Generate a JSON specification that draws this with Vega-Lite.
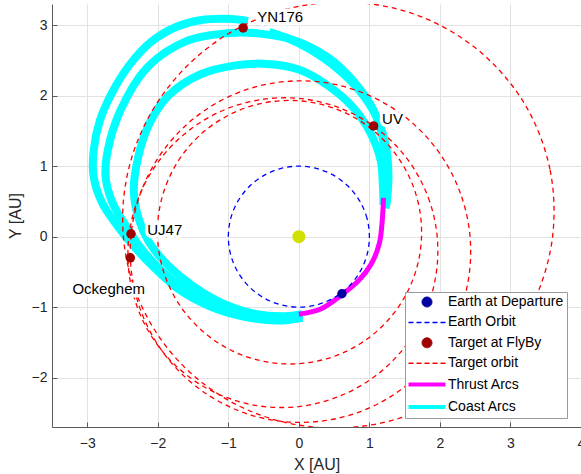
{
  "$schema": "https://vega.github.io/schema/vega-lite/v6.json",
  "width": 529,
  "height": 423,
  "autosize": {"type": "none"},
  "padding": {"left": 52, "top": 4, "right": 0, "bottom": 47},
  "background": "white",
  "config": {
    "view": {"stroke": null},
    "font": "Liberation Sans",
    "axis": {
      "grid": true,
      "gridColor": "#e2e2e2",
      "gridWidth": 1,
      "domainColor": "#5a5a5a",
      "tickColor": "#5a5a5a",
      "tickSize": -5,
      "labelFontSize": 14,
      "labelColor": "#262626",
      "labelFlush": false,
      "labelOverlap": false,
      "labelBound": false,
      "titleFontSize": 16,
      "titleFontWeight": "normal",
      "titleColor": "#262626"
    }
  },
  "datasets": {
    "earth": [
      {"o": 0, "x": 1, "y": 0}, {"o": 1, "x": 0.966, "y": 0.259}, {"o": 2, "x": 0.866, "y": 0.5}, {"o": 3, "x": 0.707, "y": 0.707},
      {"o": 4, "x": 0.5, "y": 0.866}, {"o": 5, "x": 0.259, "y": 0.966}, {"o": 6, "x": 0, "y": 1}, {"o": 7, "x": -0.259, "y": 0.966},
      {"o": 8, "x": -0.5, "y": 0.866}, {"o": 9, "x": -0.707, "y": 0.707}, {"o": 10, "x": -0.866, "y": 0.5}, {"o": 11, "x": -0.966, "y": 0.259},
      {"o": 12, "x": -1, "y": 0}, {"o": 13, "x": -0.966, "y": -0.259}, {"o": 14, "x": -0.866, "y": -0.5}, {"o": 15, "x": -0.707, "y": -0.707},
      {"o": 16, "x": -0.5, "y": -0.866}, {"o": 17, "x": -0.259, "y": -0.966}, {"o": 18, "x": 0, "y": -1}, {"o": 19, "x": 0.259, "y": -0.966},
      {"o": 20, "x": 0.5, "y": -0.866}, {"o": 21, "x": 0.707, "y": -0.707}, {"o": 22, "x": 0.866, "y": -0.5}, {"o": 23, "x": 0.966, "y": -0.259}
    ],
    "orbits": [
      {"id": "YN176", "o": 0, "x": 3.597, "y": 0}, {"id": "YN176", "o": 1, "x": 3.56, "y": 0.954}, {"id": "YN176", "o": 2, "x": 3.216, "y": 1.857},
      {"id": "YN176", "o": 3, "x": 2.598, "y": 2.598}, {"id": "YN176", "o": 4, "x": 1.788, "y": 3.098}, {"id": "YN176", "o": 5, "x": 0.889, "y": 3.317},
      {"id": "YN176", "o": 6, "x": 0, "y": 3.268}, {"id": "YN176", "o": 7, "x": -0.801, "y": 2.989}, {"id": "YN176", "o": 8, "x": -1.464, "y": 2.535},
      {"id": "YN176", "o": 9, "x": -1.965, "y": 1.965}, {"id": "YN176", "o": 10, "x": -2.299, "y": 1.327}, {"id": "YN176", "o": 11, "x": -2.47, "y": 0.662},
      {"id": "YN176", "o": 12, "x": -2.488, "y": 0}, {"id": "YN176", "o": 13, "x": -2.363, "y": -0.633}, {"id": "YN176", "o": 14, "x": -2.109, "y": -1.217},
      {"id": "YN176", "o": 15, "x": -1.734, "y": -1.734}, {"id": "YN176", "o": 16, "x": -1.249, "y": -2.163}, {"id": "YN176", "o": 17, "x": -0.666, "y": -2.484},
      {"id": "YN176", "o": 18, "x": 0, "y": -2.674}, {"id": "YN176", "o": 19, "x": 0.725, "y": -2.707}, {"id": "YN176", "o": 20, "x": 1.478, "y": -2.559},
      {"id": "YN176", "o": 21, "x": 2.208, "y": -2.208}, {"id": "YN176", "o": 22, "x": 2.855, "y": -1.649}, {"id": "YN176", "o": 23, "x": 3.343, "y": -0.896},

      {"id": "UJ47", "o": 0, "x": 2.427, "y": 0}, {"id": "UJ47", "o": 1, "x": 2.291, "y": 0.614}, {"id": "UJ47", "o": 2, "x": 2.01, "y": 1.161},
      {"id": "UJ47", "o": 3, "x": 1.611, "y": 1.611}, {"id": "UJ47", "o": 4, "x": 1.122, "y": 1.943}, {"id": "UJ47", "o": 5, "x": 0.575, "y": 2.145},
      {"id": "UJ47", "o": 6, "x": 0, "y": 2.21}, {"id": "UJ47", "o": 7, "x": -0.572, "y": 2.136}, {"id": "UJ47", "o": 8, "x": -1.112, "y": 1.926},
      {"id": "UJ47", "o": 9, "x": -1.59, "y": 1.59}, {"id": "UJ47", "o": 10, "x": -1.979, "y": 1.142}, {"id": "UJ47", "o": 11, "x": -2.25, "y": 0.603},
      {"id": "UJ47", "o": 12, "x": -2.381, "y": 0}, {"id": "UJ47", "o": 13, "x": -2.354, "y": -0.631}, {"id": "UJ47", "o": 14, "x": -2.159, "y": -1.246},
      {"id": "UJ47", "o": 15, "x": -1.8, "y": -1.8}, {"id": "UJ47", "o": 16, "x": -1.294, "y": -2.241}, {"id": "UJ47", "o": 17, "x": -0.678, "y": -2.531},
      {"id": "UJ47", "o": 18, "x": 0, "y": -2.635}, {"id": "UJ47", "o": 19, "x": 0.682, "y": -2.544}, {"id": "UJ47", "o": 20, "x": 1.308, "y": -2.265},
      {"id": "UJ47", "o": 21, "x": 1.825, "y": -1.825}, {"id": "UJ47", "o": 22, "x": 2.196, "y": -1.268}, {"id": "UJ47", "o": 23, "x": 2.398, "y": -0.643},

      {"id": "Ock", "o": 0, "x": 1.961, "y": 0}, {"id": "Ock", "o": 1, "x": 1.855, "y": 0.497}, {"id": "Ock", "o": 2, "x": 1.642, "y": 0.948},
      {"id": "Ock", "o": 3, "x": 1.335, "y": 1.335}, {"id": "Ock", "o": 4, "x": 0.948, "y": 1.642}, {"id": "Ock", "o": 5, "x": 0.497, "y": 1.855},
      {"id": "Ock", "o": 6, "x": 0, "y": 1.961}, {"id": "Ock", "o": 7, "x": -0.522, "y": 1.947}, {"id": "Ock", "o": 8, "x": -1.042, "y": 1.805},
      {"id": "Ock", "o": 9, "x": -1.529, "y": 1.529}, {"id": "Ock", "o": 10, "x": -1.946, "y": 1.124}, {"id": "Ock", "o": 11, "x": -2.252, "y": 0.603},
      {"id": "Ock", "o": 12, "x": -2.41, "y": 0}, {"id": "Ock", "o": 13, "x": -2.389, "y": -0.64}, {"id": "Ock", "o": 14, "x": -2.178, "y": -1.258},
      {"id": "Ock", "o": 15, "x": -1.789, "y": -1.789}, {"id": "Ock", "o": 16, "x": -1.258, "y": -2.178}, {"id": "Ock", "o": 17, "x": -0.64, "y": -2.389},
      {"id": "Ock", "o": 18, "x": 0, "y": -2.41}, {"id": "Ock", "o": 19, "x": 0.603, "y": -2.252}, {"id": "Ock", "o": 20, "x": 1.124, "y": -1.946},
      {"id": "Ock", "o": 21, "x": 1.529, "y": -1.529}, {"id": "Ock", "o": 22, "x": 1.805, "y": -1.042}, {"id": "Ock", "o": 23, "x": 1.947, "y": -0.522},

      {"id": "UV", "o": 0, "x": 1.739, "y": 0}, {"id": "UV", "o": 1, "x": 1.698, "y": 0.455}, {"id": "UV", "o": 2, "x": 1.544, "y": 0.891},
      {"id": "UV", "o": 3, "x": 1.283, "y": 1.283}, {"id": "UV", "o": 4, "x": 0.925, "y": 1.603}, {"id": "UV", "o": 5, "x": 0.489, "y": 1.825},
      {"id": "UV", "o": 6, "x": 0, "y": 1.927}, {"id": "UV", "o": 7, "x": -0.508, "y": 1.895}, {"id": "UV", "o": 8, "x": -0.995, "y": 1.724},
      {"id": "UV", "o": 9, "x": -1.422, "y": 1.422}, {"id": "UV", "o": 10, "x": -1.749, "y": 1.01}, {"id": "UV", "o": 11, "x": -1.949, "y": 0.522},
      {"id": "UV", "o": 12, "x": -2.004, "y": 0}, {"id": "UV", "o": 13, "x": -1.913, "y": -0.512}, {"id": "UV", "o": 14, "x": -1.688, "y": -0.975},
      {"id": "UV", "o": 15, "x": -1.352, "y": -1.352}, {"id": "UV", "o": 16, "x": -0.937, "y": -1.623}, {"id": "UV", "o": 17, "x": -0.475, "y": -1.774},
      {"id": "UV", "o": 18, "x": 0, "y": -1.802}, {"id": "UV", "o": 19, "x": 0.459, "y": -1.712}, {"id": "UV", "o": 20, "x": 0.875, "y": -1.515},
      {"id": "UV", "o": 21, "x": 1.226, "y": -1.226}, {"id": "UV", "o": 22, "x": 1.496, "y": -0.864}, {"id": "UV", "o": 23, "x": 1.67, "y": -0.448}
    ],
    "coast": [
      {"id": "I", "o": 0, "x": 1.2, "y": 0.45}, {"id": "I", "o": 1, "x": 1.19, "y": 0.75}, {"id": "I", "o": 2, "x": 1.16, "y": 1.08},
      {"id": "I", "o": 3, "x": 1.02, "y": 1.46}, {"id": "I", "o": 4, "x": 0.78, "y": 1.82}, {"id": "I", "o": 5, "x": 0.4, "y": 2.15},
      {"id": "I", "o": 6, "x": 0.0, "y": 2.37}, {"id": "I", "o": 7, "x": -0.45, "y": 2.45}, {"id": "I", "o": 8, "x": -0.9, "y": 2.43},
      {"id": "I", "o": 9, "x": -1.4, "y": 2.3}, {"id": "I", "o": 10, "x": -1.85, "y": 2.0}, {"id": "I", "o": 11, "x": -2.12, "y": 1.6},
      {"id": "I", "o": 12, "x": -2.28, "y": 1.12}, {"id": "I", "o": 13, "x": -2.34, "y": 0.65}, {"id": "I", "o": 14, "x": -2.27, "y": 0.25},
      {"id": "I", "o": 15, "x": -2.13, "y": -0.07}, {"id": "I", "o": 16, "x": -1.93, "y": -0.33}, {"id": "I", "o": 17, "x": -1.66, "y": -0.58},
      {"id": "I", "o": 18, "x": -1.35, "y": -0.8}, {"id": "I", "o": 19, "x": -1.0, "y": -0.98}, {"id": "I", "o": 20, "x": -0.6, "y": -1.1},
      {"id": "I", "o": 21, "x": -0.2, "y": -1.13}, {"id": "I", "o": 22, "x": 0.05, "y": -1.1},

      {"id": "M", "o": 0, "x": 1.23, "y": 0.4}, {"id": "M", "o": 1, "x": 1.26, "y": 0.8}, {"id": "M", "o": 2, "x": 1.21, "y": 1.3},
      {"id": "M", "o": 3, "x": 1.06, "y": 1.79}, {"id": "M", "o": 4, "x": 0.77, "y": 2.21}, {"id": "M", "o": 5, "x": 0.4, "y": 2.55},
      {"id": "M", "o": 6, "x": -0.08, "y": 2.79}, {"id": "M", "o": 7, "x": -0.55, "y": 2.88}, {"id": "M", "o": 8, "x": -0.97, "y": 2.89},
      {"id": "M", "o": 9, "x": -1.58, "y": 2.78}, {"id": "M", "o": 10, "x": -2.15, "y": 2.4}, {"id": "M", "o": 11, "x": -2.53, "y": 1.79},
      {"id": "M", "o": 12, "x": -2.71, "y": 1.22}, {"id": "M", "o": 13, "x": -2.74, "y": 0.85}, {"id": "M", "o": 14, "x": -2.65, "y": 0.5},
      {"id": "M", "o": 15, "x": -2.47, "y": 0.18}, {"id": "M", "o": 16, "x": -2.25, "y": -0.15}, {"id": "M", "o": 17, "x": -1.98, "y": -0.45},
      {"id": "M", "o": 18, "x": -1.65, "y": -0.72}, {"id": "M", "o": 19, "x": -1.25, "y": -0.95}, {"id": "M", "o": 20, "x": -0.8, "y": -1.1},
      {"id": "M", "o": 21, "x": -0.35, "y": -1.17}, {"id": "M", "o": 22, "x": 0.05, "y": -1.13},

      {"id": "B", "o": 0, "x": 1.24, "y": 0.45}, {"id": "B", "o": 1, "x": 1.27, "y": 0.85}, {"id": "B", "o": 2, "x": 1.23, "y": 1.3},
      {"id": "B", "o": 3, "x": 1.1, "y": 1.7}, {"id": "B", "o": 4, "x": 0.86, "y": 2.07}, {"id": "B", "o": 5, "x": 0.55, "y": 2.38},
      {"id": "B", "o": 6, "x": 0.15, "y": 2.66}, {"id": "B", "o": 7, "x": -0.15, "y": 2.81}, {"id": "B", "o": 8, "x": -0.42, "y": 2.9},

      {"id": "O", "o": 0, "x": -0.72, "y": 3.06}, {"id": "O", "o": 1, "x": -1.01, "y": 3.09}, {"id": "O", "o": 2, "x": -1.4, "y": 3.07},
      {"id": "O", "o": 3, "x": -1.75, "y": 2.97}, {"id": "O", "o": 4, "x": -2.1, "y": 2.76}, {"id": "O", "o": 5, "x": -2.39, "y": 2.45},
      {"id": "O", "o": 6, "x": -2.65, "y": 2.04}, {"id": "O", "o": 7, "x": -2.82, "y": 1.65}, {"id": "O", "o": 8, "x": -2.91, "y": 1.22},
      {"id": "O", "o": 9, "x": -2.91, "y": 0.85}, {"id": "O", "o": 10, "x": -2.79, "y": 0.48}, {"id": "O", "o": 11, "x": -2.57, "y": 0.15},
      {"id": "O", "o": 12, "x": -2.32, "y": -0.16}, {"id": "O", "o": 13, "x": -2.03, "y": -0.46}, {"id": "O", "o": 14, "x": -1.7, "y": -0.75},
      {"id": "O", "o": 15, "x": -1.28, "y": -0.98}, {"id": "O", "o": 16, "x": -0.8, "y": -1.13}, {"id": "O", "o": 17, "x": -0.3, "y": -1.19},
      {"id": "O", "o": 18, "x": 0.05, "y": -1.15}
    ],
    "thrust": [
      {"id": "T1", "o": 0, "x": 0.0, "y": -1.1}, {"id": "T1", "o": 1, "x": 0.3, "y": -1.03}, {"id": "T1", "o": 2, "x": 0.6, "y": -0.83},
      {"id": "T1", "o": 3, "x": 0.85, "y": -0.62}, {"id": "T1", "o": 4, "x": 1.03, "y": -0.38}, {"id": "T1", "o": 5, "x": 1.14, "y": -0.1},
      {"id": "T1", "o": 6, "x": 1.18, "y": 0.2}, {"id": "T1", "o": 7, "x": 1.2, "y": 0.55}
    ],
    "points": [
      {"s": "Earth at Departure", "x": 0.61, "y": -0.81},
      {"s": "Target at FlyBy", "x": -0.79, "y": 2.96},
      {"s": "Target at FlyBy", "x": 1.06, "y": 1.57},
      {"s": "Target at FlyBy", "x": -2.38, "y": 0.04},
      {"s": "Target at FlyBy", "x": -2.39, "y": -0.3}
    ],
    "labels": [
      {"t": "YN176", "x": -0.59, "y": 3.11},
      {"t": "UV", "x": 1.18, "y": 1.67},
      {"t": "UJ47", "x": -2.15, "y": 0.1},
      {"t": "Ockeghem", "x": -3.21, "y": -0.74}
    ],
    "sun": [{"x": 0, "y": 0}]
  },
  "encoding": {
    "x": {"field": "x", "type": "quantitative", "scale": {"domain": [-3.5, 4], "nice": false, "zero": false},
          "axis": {"title": "X [AU]", "values": [-3, -2, -1, 0, 1, 2, 3, 4], "labelPadding": 14, "titlePadding": 6}},
    "y": {"field": "y", "type": "quantitative", "scale": {"domain": [-2.7, 3.3], "nice": false, "zero": false},
          "axis": {"title": "Y [AU]", "values": [-2, -1, 0, 1, 2, 3], "labelPadding": 10, "titlePadding": 8}}
  },
  "layer": [
    {
      "data": {"name": "coast"},
      "transform": [{"calculate": "'Coast Arcs'", "as": "s"}],
      "mark": {"type": "line", "strokeWidth": 8, "interpolate": "catmull-rom", "clip": true},
      "encoding": {"detail": {"field": "id"}, "order": {"field": "o"},
        "color": {"field": "s", "type": "nominal",
          "scale": {"domain": ["Earth at Departure", "Earth Orbit", "Target at FlyBy", "Target orbit", "Thrust Arcs", "Coast Arcs"],
                    "range": ["#0000a0", "#0000ff", "#a00000", "#ff0000", "#ff00ff", "#00ffff"]},
          "legend": {
            "title": null, "orient": "none", "legendX": 353, "legendY": 288,
            "fillColor": "white", "strokeColor": "#9a9a9a", "padding": 3,
            "labelFontSize": 14, "labelColor": "#000000", "labelLimit": 300,
            "symbolSize": 100, "symbolOffset": 12, "labelOffset": 14, "rowPadding": 6.4,
            "symbolType": "circle",
            "encode": {"symbols": {"update": {
              "shape": {"signal": "indexof(['Earth at Departure','Target at FlyBy'], datum.value) >= 0 ? 'circle' : 'M-3.7,0H3.7'"},
              "fill": {"signal": "datum.value == 'Earth at Departure' ? '#0000a0' : datum.value == 'Target at FlyBy' ? '#a00000' : 'transparent'"},
              "stroke": {"signal": "datum.value == 'Earth at Departure' ? '#0000a0' : datum.value == 'Target at FlyBy' ? '#a00000' : datum.value == 'Earth Orbit' ? '#0000ff' : datum.value == 'Target orbit' ? '#ff0000' : datum.value == 'Thrust Arcs' ? '#ff00ff' : '#00ffff'"},
              "strokeWidth": {"signal": "datum.value == 'Thrust Arcs' || datum.value == 'Coast Arcs' ? 4 : datum.value == 'Earth Orbit' || datum.value == 'Target orbit' ? 1.5 : 1"},
              "strokeDash": {"signal": "datum.value == 'Earth Orbit' || datum.value == 'Target orbit' ? [5, 3] : [1, 0]"},
              "opacity": {"value": 1}
            }}}
          }}
      }
    },
    {
      "data": {"name": "thrust"},
      "transform": [{"calculate": "'Thrust Arcs'", "as": "s"}],
      "mark": {"type": "line", "strokeWidth": 5, "interpolate": "catmull-rom", "clip": true},
      "encoding": {"detail": {"field": "id"}, "order": {"field": "o"}, "color": {"field": "s", "type": "nominal"}}
    },
    {
      "data": {"name": "earth"},
      "transform": [{"calculate": "'Earth Orbit'", "as": "s"}],
      "mark": {"type": "line", "strokeWidth": 1.3, "strokeDash": [5, 4], "interpolate": "cardinal-closed", "clip": true},
      "encoding": {"order": {"field": "o"}, "color": {"field": "s", "type": "nominal"}}
    },
    {
      "data": {"name": "orbits"},
      "transform": [{"calculate": "'Target orbit'", "as": "s"}],
      "mark": {"type": "line", "strokeWidth": 1.3, "strokeDash": [5, 4], "interpolate": "cardinal-closed", "clip": true},
      "encoding": {"detail": {"field": "id"}, "order": {"field": "o"}, "color": {"field": "s", "type": "nominal"}}
    },
    {
      "data": {"name": "sun"},
      "mark": {"type": "point", "filled": true, "size": 170, "color": "#d2e000", "opacity": 1}
    },
    {
      "data": {"name": "points"},
      "mark": {"type": "point", "filled": true, "size": 90, "opacity": 1},
      "encoding": {"color": {"field": "s", "type": "nominal"}}
    },
    {
      "data": {"name": "labels"},
      "mark": {"type": "text", "align": "left", "baseline": "middle", "fontSize": 15, "stroke": "white", "strokeWidth": 7, "strokeJoin": "round", "fill": "white"},
      "encoding": {"text": {"field": "t"}}
    },
    {
      "data": {"name": "labels"},
      "mark": {"type": "text", "align": "left", "baseline": "middle", "fontSize": 15, "fill": "#000000"},
      "encoding": {"text": {"field": "t"}}
    }
  ]
}
